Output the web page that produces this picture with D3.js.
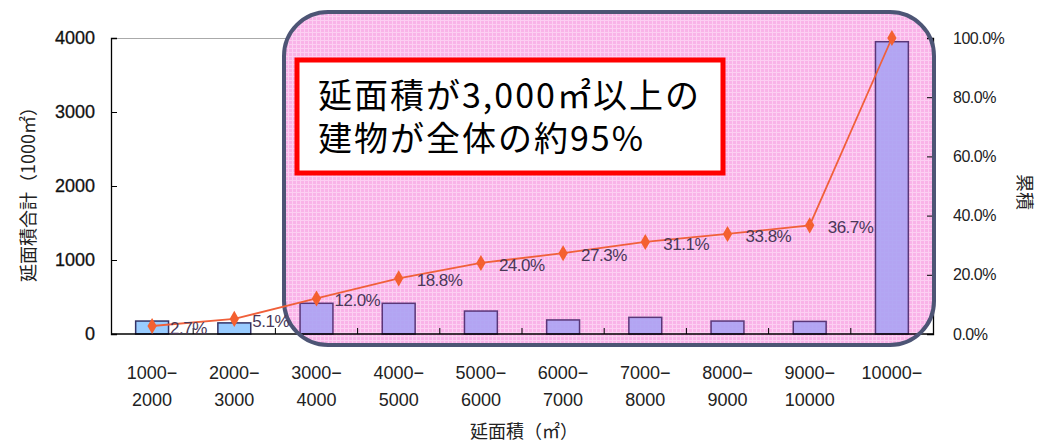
<!DOCTYPE html>
<html>
<head>
<meta charset="utf-8">
<script src="https://cdn.jsdelivr.net/npm/d3@7"></script>
<style>
  body { margin: 0; background: #fff; }
  svg { display: block; }
</style>
</head>
<body>
<svg id="chart" width="1039" height="443"></svg>
<script>
// data
const categories = ["1000-2000", "2000-3000", "3000-4000", "4000-5000", "5000-6000",
                    "6000-7000", "7000-8000", "8000-9000", "9000-10000", "10000-"];
const labelTop = ["1000−", "2000−", "3000−", "4000−", "5000−", "6000−", "7000−", "8000−", "9000−", "10000−"];
const labelBottom = ["2000", "3000", "4000", "5000", "6000", "7000", "8000", "9000", "10000", ""];
const areaTotal = [175, 150, 415, 415, 310, 190, 225, 175, 170, 3950];   // 1000㎡
const cumulative = [2.7, 5.1, 12.0, 18.8, 24.0, 27.3, 31.1, 33.8, 36.7, 100.0]; // %
const leftTicks = [0, 1000, 2000, 3000, 4000];
const rightTicks = [0, 20, 40, 60, 80, 100];

const svg = d3.select("#chart");
const margin = {top: 38, right: 106, bottom: 109, left: 111};
const width = 1039 - margin.left - margin.right;
const height = 443 - margin.top - margin.bottom;

const x = d3.scaleBand().domain(categories).range([0, width]).paddingInner(0.6).paddingOuter(0.3);
const y = d3.scaleLinear().domain([0, 4000]).range([height, 0]);
const y2 = d3.scaleLinear().domain([0, 100]).range([height, 0]);

// highlighted panel (covers 3000㎡ and above)
const panel = {x: 284, y: 12, w: 650, h: 333, r: 44};

// pink grid pattern for the panel
const defs = svg.append("defs");
const pat = defs.append("pattern").attr("id", "grid").attr("width", 4).attr("height", 4)
    .attr("patternUnits", "userSpaceOnUse");
pat.append("rect").attr("width", 4).attr("height", 4).attr("fill", "#f9b3e8");
pat.append("path").attr("d", "M0,0.5H4M0.5,0V4").attr("stroke", "#fccff2").attr("stroke-width", 1);

// frame top
svg.append("line").attr("x1", margin.left).attr("x2", margin.left + width)
    .attr("y1", margin.top + 0.5).attr("y2", margin.top + 0.5)
    .attr("stroke", "#aaa").attr("stroke-width", 1);

svg.append("rect")
    .attr("x", panel.x).attr("y", panel.y).attr("width", panel.w).attr("height", panel.h)
    .attr("rx", panel.r).attr("ry", panel.r)
    .attr("fill", "url(#grid)");

const g = svg.append("g").attr("transform", `translate(${margin.left},${margin.top})`);
const inPanel = i => margin.left + x(categories[i]) > panel.x;

// bars
g.selectAll("rect.bar")
    .data(areaTotal)
    .join("rect")
    .attr("class", "bar")
    .attr("x", (d, i) => x(categories[i]))
    .attr("y", d => y(d))
    .attr("width", x.bandwidth())
    .attr("height", d => height - y(d))
    .attr("fill", (d, i) => inPanel(i) ? "#a8a2f2" : "#99ccff")
    .attr("fill-opacity", (d, i) => inPanel(i) ? 0.88 : 1)
    .attr("stroke", (d, i) => inPanel(i) ? "#5a3678" : "#333366")
    .attr("stroke-width", 1.5);

// axes
const axisLeft = g.append("g").call(d3.axisLeft(y).tickValues(leftTicks).tickSize(-6).tickPadding(16).tickFormat(d3.format("d")));
axisLeft.select(".domain").attr("stroke", "#000").attr("stroke-width", 1.3);
axisLeft.selectAll("text").attr("font-family", "Liberation Sans, Arial").attr("font-size", 18)
    .attr("fill", "#111").attr("stroke", "#111").attr("stroke-width", 0.3);

const axisRight = g.append("g").attr("transform", `translate(${width},0)`)
    .call(d3.axisRight(y2).tickValues(rightTicks).tickSize(-6).tickPadding(20).tickFormat(d => d.toFixed(1) + "%"));
axisRight.select(".domain").attr("stroke", "#000").attr("stroke-width", 1.3);
axisRight.selectAll("text").attr("font-family", "Liberation Sans, Arial").attr("font-size", 16)
    .attr("fill", "#222").attr("letter-spacing", -0.5);

// bottom axis with ticks at category boundaries
g.append("line").attr("x1", 0).attr("x2", width).attr("y1", height).attr("y2", height)
    .attr("stroke", "#000").attr("stroke-width", 1.5);
g.selectAll("line.xtick")
    .data(categories.slice(1))
    .join("line")
    .attr("class", "xtick")
    .attr("x1", d => x(d) - x.step() * 0.3)
    .attr("x2", d => x(d) - x.step() * 0.3)
    .attr("y1", height).attr("y2", height - 6)
    .attr("stroke", "#000");

const xl = g.append("g").attr("font-family", "Liberation Sans, Arial").attr("font-size", 18)
    .attr("fill", "#222").attr("text-anchor", "middle");
xl.selectAll("text.l1").data(labelTop).join("text").attr("class", "l1")
    .attr("x", (d, i) => x(categories[i]) + x.bandwidth() / 2)
    .attr("y", height + 45).text(d => d);
xl.selectAll("text.l2").data(labelBottom).join("text").attr("class", "l2")
    .attr("x", (d, i) => x(categories[i]) + x.bandwidth() / 2)
    .attr("y", height + 72).text(d => d);

// axis titles
svg.append("text")
    .attr("transform", "translate(35,190) rotate(-90)")
    .attr("text-anchor", "middle")
    .attr("font-family", "Noto Sans CJK JP")
    .attr("font-size", 18).attr("fill", "#222")
    .text("延面積合計（1000㎡）");
svg.append("text")
    .attr("transform", "translate(1018,192) rotate(90)")
    .attr("text-anchor", "middle")
    .attr("font-family", "Noto Sans CJK JP")
    .attr("font-size", 18).attr("fill", "#222")
    .text("累積");
svg.append("text")
    .attr("x", 524).attr("y", 438)
    .attr("text-anchor", "middle")
    .attr("font-family", "Noto Sans CJK JP")
    .attr("font-size", 18).attr("fill", "#222")
    .text("延面積（㎡）");

// panel border
svg.append("rect")
    .attr("x", panel.x).attr("y", panel.y).attr("width", panel.w).attr("height", panel.h)
    .attr("rx", panel.r).attr("ry", panel.r)
    .attr("fill", "none")
    .attr("stroke", "#4d5575").attr("stroke-width", 4);

// cumulative line
const cx = (d, i) => x(categories[i]) + x.bandwidth() / 2;
const gl = svg.append("g").attr("transform", `translate(${margin.left},${margin.top})`);
gl.append("path")
    .datum(cumulative)
    .attr("fill", "none")
    .attr("stroke", "#f0603a")
    .attr("stroke-width", 1.8)
    .attr("d", d3.line().x(cx).y(d => y2(d)));
gl.selectAll("path.pt")
    .data(cumulative)
    .join("path")
    .attr("class", "pt")
    .attr("transform", (d, i) => `translate(${cx(d, i)},${y2(d)})`)
    .attr("d", d3.symbol(d3.symbolDiamond, 75))
    .attr("fill", "#f46030");
gl.selectAll("text.pct")
    .data(cumulative.slice(0, 9))
    .join("text")
    .attr("class", "pct")
    .attr("x", (d, i) => cx(d, i) + 18)
    .attr("y", d => y2(d) + 8)
    .attr("font-family", "Liberation Sans, Arial")
    .attr("font-size", 17)
    .attr("letter-spacing", -0.5)
    .attr("fill", "#4a3858")
    .text(d => d.toFixed(1) + "%");

// callout box
svg.append("rect")
    .attr("x", 297).attr("y", 60).attr("width", 426).attr("height", 113)
    .attr("fill", "#fff").attr("stroke", "#ff0000").attr("stroke-width", 5);
const note = svg.append("g")
    .attr("font-family", "Noto Sans CJK JP")
    .attr("font-size", 34).attr("letter-spacing", 2).attr("fill", "#000");
note.append("text").attr("x", 318).attr("y", 108).text("延面積が3,000㎡以上の");
note.append("text").attr("x", 318).attr("y", 151).text("建物が全体の約95%");
</script>
</body>
</html>
